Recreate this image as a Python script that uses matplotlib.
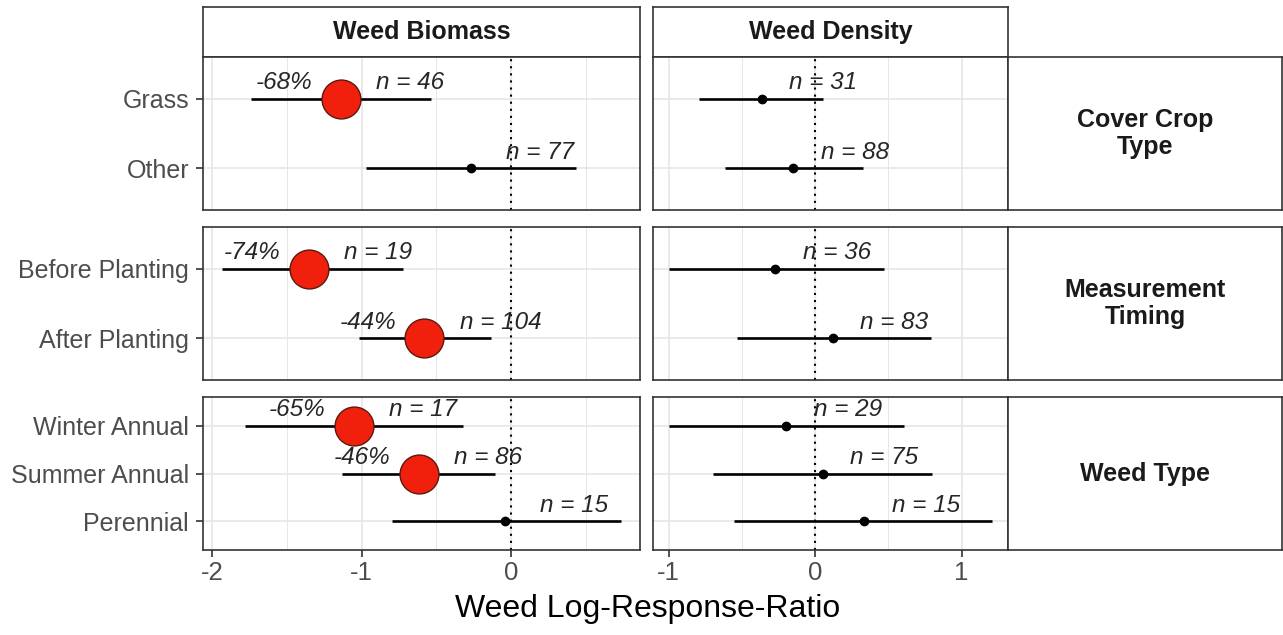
import matplotlib
matplotlib.use("Agg")
import matplotlib.pyplot as plt
import numpy as np

plt.rcParams['font.family'] = ['Liberation Sans', 'DejaVu Sans']

W, H = 1283, 635

RESPONSES = ["Weed Biomass", "Weed Density"]
GROUPS = ["Cover Crop\nType", "Measurement\nTiming", "Weed Type"]
LEVELS = [["Grass", "Other"],
          ["Before Planting", "After Planting"],
          ["Winter Annual", "Summer Annual", "Perennial"]]

# log response ratio estimates and 95% CI, same order as LEVELS flattened
biomass_est = [-1.14, -0.27, -1.35, -0.58, -1.05, -0.62, -0.04]
biomass_lo = [-1.74, -0.97, -1.93, -1.02, -1.78, -1.13, -0.80]
biomass_hi = [-0.535, 0.43, -0.725, -0.135, -0.32, -0.11, 0.73]
biomass_n = [46, 77, 19, 104, 17, 86, 15]

density_est = [-0.365, -0.148, -0.273, 0.12, -0.198, 0.052, 0.334]
density_lo = [-0.79, -0.614, -0.995, -0.535, -0.995, -0.694, -0.553]
density_hi = [0.057, 0.325, 0.47, 0.79, 0.61, 0.80, 1.206]
density_n = [31, 88, 36, 83, 29, 75, 15]

SERIES = [
    (biomass_est, biomass_lo, biomass_hi, biomass_n),
    (density_est, density_lo, density_hi, density_n),
]

XLIMS = [(-2.06, 0.86), (-1.106, 1.317)]
XMAJOR = [[-2, -1, 0], [-1, 0, 1]]
XMINOR = [[-1.5, -0.5, 0.5], [-0.5, 0.5]]
N_NUDGE = [0.235, 0.19]
PCT_NUDGE = 0.19

# pixel layout (left, right) per column, (top, bottom) per row
COLS = [(203, 640), (653, 1008)]
ROWS = [(57, 210), (227, 380), (397, 550)]
STRIP_TOP = (7, 57)
STRIP_RIGHT = (1008, 1282)

BORDER = "#333333"
GRID = "#E6E6E6"
TICKTXT = "#4D4D4D"
RED = "#F0200C"


def box(l, t, r, b):
    return [l / W, 1 - b / H, (r - l) / W, (b - t) / H]


def style_strip(ax, label):
    ax.set_xticks([])
    ax.set_yticks([])
    ax.set_facecolor("white")
    for sp in ax.spines.values():
        sp.set_color(BORDER)
        sp.set_linewidth(1.2)
    ax.text(0.5, 0.5, label, transform=ax.transAxes, ha="center", va="center",
            fontsize=18, fontweight="bold", color="#1A1A1A", linespacing=1.15)


fig = plt.figure(figsize=(W / 100, H / 100), dpi=100)

# top strips
for c, name in enumerate(RESPONSES):
    l, r = COLS[c]
    sax = fig.add_axes(box(l, STRIP_TOP[0], r, STRIP_TOP[1]))
    style_strip(sax, name)

start = 0
for ri, levels in enumerate(LEVELS):
    k = len(levels)
    t, b = ROWS[ri]
    ys = np.arange(1, k + 1)
    for c in range(2):
        est, lo, hi, n = [np.array(a[start:start + k]) for a in SERIES[c]]
        l, r = COLS[c]
        ax = fig.add_axes(box(l, t, r, b))
        ax.set_xlim(*XLIMS[c])
        ax.set_ylim(k + 0.6, 0.4)

        for x in XMINOR[c]:
            ax.axvline(x, color=GRID, lw=0.7, zorder=0)
        for x in XMAJOR[c]:
            ax.axvline(x, color=GRID, lw=1.2, zorder=0)
        for y in ys:
            ax.axhline(y, color=GRID, lw=1.2, zorder=0)
        ax.axvline(0, color="black", lw=1.5, ls=(0, (1, 2.4)), zorder=1)

        ax.hlines(ys, lo, hi, color="black", lw=1.9, zorder=3)
        sig = hi < 0
        if c == 0:
            ax.plot(est[sig], ys[sig], "o", ms=28, mfc=RED, mec="#5A1A10",
                    mew=1.0, zorder=4)
            ax.plot(est[~sig], ys[~sig], "o", ms=6, color="black", zorder=4)
        else:
            ax.plot(est, ys, "o", ms=6, color="black", zorder=4)

        for j in range(k):
            ax.annotate(f"n = {n[j]}", (est[j] + N_NUDGE[c], ys[j]),
                        xytext=(0, 11.5), textcoords="offset points",
                        ha="left", va="center", fontsize=17.5, style="italic",
                        color="#262626", zorder=5)
            if c == 0 and sig[j]:
                pct = (np.exp(est[j]) - 1) * 100
                ax.annotate(f"{pct:.0f}%", (est[j] - PCT_NUDGE, ys[j]),
                            xytext=(0, 11.5), textcoords="offset points",
                            ha="right", va="center", fontsize=17.5,
                            style="italic", color="#262626", zorder=5)

        for sp in ax.spines.values():
            sp.set_color(BORDER)
            sp.set_linewidth(1.2)

        ax.set_xticks(XMAJOR[c])
        if ri == len(LEVELS) - 1:
            ax.set_xticklabels([str(v) for v in XMAJOR[c]])
            ax.tick_params(axis="x", length=5, width=1.2, color=BORDER,
                           labelsize=18.5, labelcolor=TICKTXT, pad=3)
        else:
            ax.tick_params(axis="x", length=0, labelbottom=False)

        ax.set_yticks(ys)
        if c == 0:
            ax.set_yticklabels(levels)
            ax.tick_params(axis="y", length=5, width=1.2, color=BORDER,
                           labelsize=18, labelcolor=TICKTXT, pad=5)
        else:
            ax.tick_params(axis="y", length=0, labelleft=False)

    # right strip for the row
    sax = fig.add_axes(box(STRIP_RIGHT[0], t, STRIP_RIGHT[1], b))
    style_strip(sax, GROUPS[ri])
    start += k

fig.text(648 / W, 1 - 617 / H, "Weed Log-Response-Ratio", ha="center",
         va="baseline", fontsize=23, color="black")

fig.savefig("out.png", dpi=100)
